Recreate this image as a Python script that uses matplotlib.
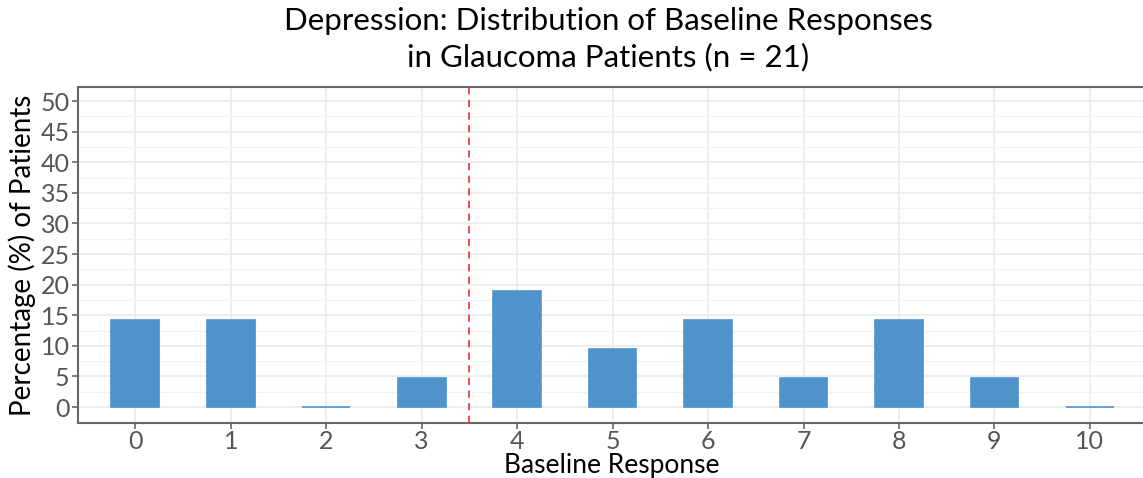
import numpy as np
import matplotlib.pyplot as plt
from matplotlib.ticker import MultipleLocator

plt.rcParams['font.family'] = ['Lato', 'DejaVu Sans']

# Baseline responses (0-10) and share of patients, n = 21
responses = [0, 1, 2, 3, 4, 5, 6, 7, 8, 9, 10]
counts = [3, 3, 0, 1, 4, 2, 3, 1, 3, 1, 0]
n_patients = 21
percent = [100 * c / n_patients for c in counts]
cutoff = 3.5

bar_color = '#4f93cd'
spine_color = '#666666'

fig = plt.figure(figsize=(11.43, 4.78), dpi=100)
ax = fig.add_axes([78 / 1143, 1 - 423 / 478, 1 - 78 / 1143 + 0.002, (423 - 87) / 478])

ax.bar(responses, percent, width=0.5, color=bar_color, edgecolor=bar_color,
       linewidth=1.2, zorder=3)
ax.axvline(cutoff, color='#e8403a', linestyle=(0, (4, 3)), linewidth=1.3, zorder=4)

ax.set_xlim(-0.6, 10.58)
ax.set_ylim(-2.6, 52.3)
ax.set_xticks(responses)
ax.yaxis.set_major_locator(MultipleLocator(5))
ax.yaxis.set_minor_locator(MultipleLocator(2.5))

ax.grid(which='major', color='#ebebeb', linewidth=1.2, zorder=0)
ax.grid(which='minor', axis='y', color='#f2f2f2', linewidth=0.9, zorder=0)
ax.set_axisbelow(True)

for side in ['left', 'top', 'bottom']:
    ax.spines[side].set_color(spine_color)
    ax.spines[side].set_linewidth(1.5)
ax.spines['right'].set_visible(False)

ax.tick_params(which='major', length=4, width=1.2, color=spine_color,
               labelsize=18, labelcolor='#555555', pad=2)
ax.tick_params(axis='x', pad=1)
ax.tick_params(which='minor', length=0)

ax.set_xlabel('Baseline Response', fontsize=19, labelpad=0)
ax.set_ylabel('Percentage (%) of Patients', fontsize=20, labelpad=3)
fig.suptitle('Depression: Distribution of Baseline Responses\nin Glaucoma Patients (n = 21)',
             fontsize=22.5, y=0.985, x=0.532, linespacing=1.3)

fig.savefig('out.png', dpi=100)
